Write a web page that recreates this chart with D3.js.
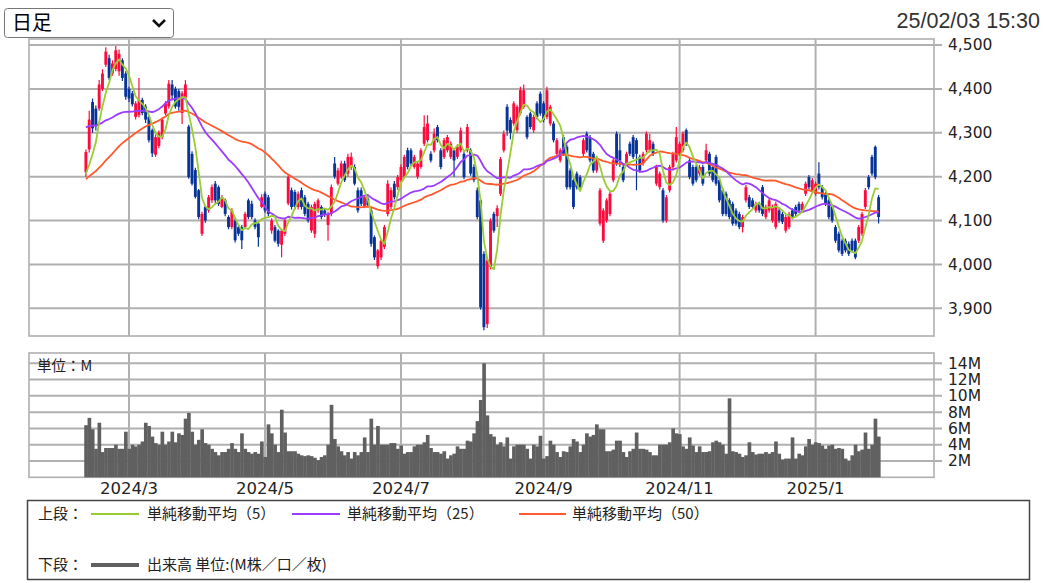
<!DOCTYPE html>
<html><head><meta charset="utf-8">
<script src="https://cdn.jsdelivr.net/npm/d3@7"></script>
<style>
html,body{margin:0;padding:0;background:#fff;}
svg{display:block;}
</style></head><body>
<svg id="chart" width="1044" height="583"></svg>
<script>
// ---------------- DATA ----------------
const headerDate = "25/02/03 15:30";
const periodLabel = "日足";
const startDate = "2024-02-09";
const endDate = "2025-02-03";
const holidays = ["2024-02-12","2024-02-23","2024-03-20","2024-04-29","2024-05-03","2024-05-06",
  "2024-07-15","2024-08-12","2024-09-16","2024-09-23","2024-10-14","2024-11-04","2024-12-31",
  "2025-01-01","2025-01-02","2025-01-03","2025-01-13"];
const monthLabels = ["2024/3","2024/5","2024/7","2024/9","2024/11","2025/1"];
const priceTicks = [3900,4000,4100,4200,4300,4400,4500];
const volumeTicks = [2,4,6,8,10,12,14];

// closes before the first visible day (used only for the moving averages)
const preCloses = [4010,4020,4000,4030,4045,4040,4055,4060,4050,4070,
  4080,4075,4090,4085,4095,4100,4090,4105,4110,4100,
  4115,4120,4110,4125,4130,
  4250,4290,4310,4330,4345,4360,4350,4370,4365,4380,
  4360,4350,4370,4355,4340,4360,4345,4330,4320,4290,
  4230,4190,4180,4180];

const opens = [4210,4262,4370,4355,4355,4400,4455,4470,4435,4445,
  4440,4465,4435,4400,4390,4336,4340,4375,4360,4336,
  4306,4250,4270,4290,4344,4360,4410,4400,4395,4345,
  4380,4314,4252,4215,4169,4070,4131,4123,4146,4184,
  4176,4131,4146,4108,4085,4100,4085,4085,4085,4146,
  4138,4100,4093,4131,4161,4153,4077,4085,4077,4045,
  4070,4139,4169,4165,4131,4169,4153,4138,4077,4070,
  4123,4131,4123,4090,4115,4230,4184,4200,4230,4207,
  4222,4222,4169,4169,4131,4150,4123,4062,3996,4016,
  4040,4115,4131,4184,4176,4192,4200,4260,4260,4222,
  4200,4222,4275,4283,4252,4260,4313,4260,4245,4260,
  4245,4260,4245,4260,4252,4260,4260,4222,4169,4146,
  4024,3864,3994,4115,4110,4161,4260,4359,4329,4321,
  4306,4344,4359,4336,4344,4306,4367,4389,4367,4336,
  4321,4321,4252,4237,4290,4268,4214,4192,4207,4199,
  4252,4298,4290,4252,4214,4093,4054,4100,4115,4192,
  4298,4260,4222,4230,4275,4290,4283,4245,4230,4260,
  4260,4275,4184,4176,4169,4100,4169,4222,4237,4252,
  4260,4306,4237,4222,4222,4207,4222,4237,4252,4222,
  4245,4192,4169,4161,4146,4138,4123,4115,4085,4146,
  4153,4146,4123,4138,4176,4108,4123,4100,4085,4123,
  4115,4077,4085,4123,4131,4138,4123,4161,4199,4169,
  4161,4207,4176,4161,4146,4131,4085,4070,4054,4054,
  4047,4054,4054,4054,4070,4131,4199,4245,4268,4153];

const highs = [4262,4350,4378,4362,4420,4445,4495,4478,4465,4498,
  4490,4470,4440,4405,4395,4372,4425,4380,4365,4340,
  4310,4296,4305,4335,4372,4420,4420,4405,4400,4395,
  4420,4318,4258,4220,4172,4120,4135,4158,4182,4190,
  4180,4158,4150,4112,4128,4105,4090,4090,4120,4150,
  4145,4105,4098,4160,4166,4158,4105,4090,4080,4080,
  4105,4205,4175,4170,4166,4175,4158,4143,4136,4143,
  4150,4135,4128,4120,4182,4245,4220,4236,4236,4252,
  4255,4228,4175,4175,4158,4155,4128,4066,4035,4058,
  4090,4192,4175,4190,4204,4228,4250,4266,4265,4250,
  4235,4265,4340,4340,4258,4310,4318,4265,4288,4295,
  4280,4265,4273,4312,4258,4320,4265,4228,4175,4150,
  4030,4015,4105,4120,4135,4245,4305,4365,4335,4372,
  4364,4405,4410,4340,4348,4341,4372,4394,4372,4405,
  4364,4326,4288,4265,4295,4273,4219,4197,4212,4204,
  4288,4303,4295,4257,4242,4174,4128,4151,4166,4242,
  4303,4298,4227,4257,4280,4295,4288,4250,4257,4303,
  4298,4280,4227,4212,4174,4158,4227,4257,4313,4280,
  4303,4310,4242,4227,4227,4227,4227,4275,4257,4227,
  4250,4197,4174,4166,4151,4143,4128,4120,4113,4181,
  4158,4151,4143,4143,4181,4136,4151,4136,4143,4128,
  4120,4113,4120,4128,4136,4143,4143,4189,4204,4197,
  4189,4233,4181,4166,4151,4136,4090,4075,4059,4059,
  4052,4059,4059,4090,4120,4174,4204,4250,4271,4158];

const lows = [4200,4255,4300,4305,4350,4395,4450,4420,4430,4440,
  4430,4418,4375,4370,4360,4330,4335,4340,4322,4278,
  4245,4245,4265,4285,4340,4355,4375,4355,4350,4320,
  4375,4195,4180,4150,4103,4065,4095,4118,4140,4140,
  4133,4128,4110,4080,4080,4050,4065,4035,4080,4103,
  4103,4080,4040,4128,4118,4110,4070,4050,4040,4016,
  4065,4135,4125,4125,4125,4125,4110,4095,4072,4060,
  4118,4103,4108,4054,4110,4195,4180,4195,4188,4200,
  4215,4180,4118,4133,4128,4130,4040,4010,3990,4010,
  4035,4110,4126,4148,4170,4188,4195,4217,4225,4218,
  4195,4218,4270,4278,4232,4255,4278,4217,4240,4255,
  4240,4200,4240,4255,4194,4255,4202,4187,4103,3897,
  3850,3855,3989,4072,4085,4156,4255,4293,4285,4316,
  4300,4340,4355,4285,4308,4300,4331,4339,4324,4331,
  4316,4278,4247,4232,4247,4171,4171,4126,4171,4171,
  4247,4255,4232,4209,4209,4088,4049,4095,4110,4187,
  4225,4222,4187,4225,4247,4240,4169,4209,4225,4255,
  4255,4247,4179,4171,4095,4095,4164,4217,4232,4247,
  4255,4270,4194,4179,4187,4202,4179,4232,4202,4187,
  4179,4141,4110,4110,4103,4088,4088,4080,4073,4141,
  4126,4126,4118,4118,4110,4103,4118,4095,4080,4095,
  4092,4072,4080,4103,4110,4118,4118,4156,4171,4164,
  4156,4171,4148,4133,4103,4095,4049,4027,4019,4027,
  4019,4027,4012,4049,4065,4126,4171,4202,4194,4093];

const closes = [4256,4330,4310,4315,4410,4435,4485,4425,4458,4488,
  4480,4425,4382,4378,4365,4367,4375,4345,4330,4283,
  4253,4290,4300,4330,4367,4412,4385,4360,4359,4390,
  4410,4199,4184,4154,4108,4115,4100,4153,4176,4146,
  4138,4153,4115,4085,4123,4055,4070,4055,4115,4108,
  4108,4085,4062,4153,4123,4115,4100,4054,4047,4077,
  4100,4199,4131,4131,4161,4131,4115,4100,4131,4138,
  4146,4108,4115,4115,4176,4200,4214,4230,4192,4245,
  4245,4184,4123,4138,4153,4135,4047,4016,4032,4054,
  4085,4184,4169,4153,4199,4222,4245,4222,4230,4245,
  4230,4260,4313,4321,4237,4298,4283,4222,4283,4290,
  4275,4237,4268,4305,4199,4313,4207,4192,4108,3902,
  3857,4009,4100,4077,4128,4240,4298,4305,4300,4367,
  4359,4397,4397,4290,4313,4336,4336,4344,4329,4397,
  4359,4283,4283,4260,4252,4176,4176,4131,4176,4176,
  4283,4260,4237,4214,4237,4169,4123,4146,4161,4237,
  4230,4237,4192,4252,4252,4245,4252,4214,4252,4298,
  4283,4252,4222,4207,4100,4153,4222,4252,4290,4275,
  4298,4275,4199,4184,4192,4222,4184,4260,4207,4192,
  4184,4146,4115,4115,4108,4093,4093,4085,4108,4176,
  4131,4131,4138,4123,4115,4131,4146,4131,4138,4100,
  4097,4108,4115,4108,4115,4123,4138,4184,4176,4192,
  4184,4176,4153,4138,4108,4100,4054,4032,4024,4032,
  4024,4032,4016,4085,4115,4169,4176,4207,4199,4108];

// volume, millions of shares
const volumes = [6.4,7.3,5.9,3.5,6.7,3.1,3.6,3.6,3.6,4.0,
  3.5,3.5,5.6,3.5,4.0,3.8,4.0,4.4,6.7,6.3,
  5.0,4.2,4.0,5.6,4.0,4.4,5.6,4.3,5.4,5.2,
  7.2,7.9,5.6,4.0,4.6,5.9,4.2,4.0,3.5,3.1,
  2.7,3.1,3.1,3.5,4.2,3.5,3.1,5.4,3.5,3.1,
  2.9,3.1,2.9,4.4,2.5,6.5,5.4,4.0,3.1,8.3,
  5.5,3.2,3.2,3.2,2.9,2.7,2.6,2.7,2.6,2.4,
  2.1,2.5,2.7,4.0,8.9,4.7,3.8,3.2,2.7,3.1,
  2.3,3.1,2.7,3.1,4.9,3.1,7.2,4.0,6.3,4.0,
  4.0,4.0,4.2,4.2,3.5,3.9,2.9,3.1,3.1,3.8,
  4.0,4.0,4.3,5.2,3.6,3.1,3.1,2.9,3.2,2.3,
  2.7,2.9,3.8,3.5,3.5,4.5,4.4,5.4,6.9,9.5,
  14.0,7.6,5.3,5.0,4.0,4.3,3.8,4.9,2.3,3.8,
  4.0,4.0,4.0,3.5,2.3,4.0,3.8,5.1,2.3,2.6,
  4.5,4.0,3.1,2.5,3.2,3.1,3.8,4.7,4.4,3.1,
  4.0,5.4,5.0,5.2,6.5,5.9,5.9,3.2,3.2,3.4,
  4.5,4.5,3.1,2.5,3.2,3.5,5.5,3.5,3.5,3.4,
  3.1,2.7,2.7,4.0,4.0,4.0,4.3,6.0,5.4,5.3,
  3.8,3.5,4.9,3.9,3.1,3.8,3.1,3.1,3.2,4.3,
  4.5,4.3,4.0,2.9,9.7,3.2,3.1,2.9,2.5,2.7,
  4.3,3.1,2.8,2.9,2.9,3.1,2.9,3.1,4.4,2.9,
  2.2,2.3,2.3,4.9,2.3,2.9,2.7,3.8,4.7,4.0,
  4.3,4.2,3.9,3.5,3.9,4.0,3.5,3.6,3.5,2.3,
  2.0,2.7,4.0,3.2,3.4,5.5,3.5,4.0,7.2,5.0];

const maPeriods = [5, 25, 50];
const maNames = ["単純移動平均（5）", "単純移動平均（25）", "単純移動平均（50）"];
const volumeLegend = "出来高 単位:(M株／口／枚)";

// ---------------- STYLE ----------------
const colUp = "#ff0a3c", colDown = "#08349a";
const maColors = ["#9acd32", "#9b3cff", "#ff5a2d"];
const gridCol = "#b0b0b0";
const volCol = "#606060";
const axisFont = "'DejaVu Sans', sans-serif";
const cjkFont = "'Noto Sans CJK JP', sans-serif";

// ---------------- CALENDAR ----------------
function tradingDays(s, e, hol) {
  const out = [];
  const hs = new Set(hol);
  let d = new Date(s + "T00:00:00Z");
  const end = new Date(e + "T00:00:00Z");
  while (d <= end) {
    const wd = d.getUTCDay();
    const iso = d.toISOString().slice(0, 10);
    if (wd !== 0 && wd !== 6 && !hs.has(iso)) out.push(iso);
    d = new Date(d.getTime() + 86400000);
  }
  return out;
}
const dates = tradingDays(startDate, endDate, holidays);
const data = dates.map((d, i) => ({
  date: d, o: opens[i], h: Math.max(highs[i], opens[i], closes[i]),
  l: Math.min(lows[i], opens[i], closes[i]), c: closes[i], v: volumes[i]
}));

// ---------------- LAYOUT ----------------
const svg = d3.select("#chart");
const L = 29, R = 934;
const pTop = 39, pBot = 336;
const vTop = 353, vBot = 477.3;

const x = d3.scaleBand().domain(dates).range([84.24, 880.26]).paddingInner(0).paddingOuter(0);
const bw = x.bandwidth();
const cx = d => x(d) + bw / 2;
const y = d3.scaleLinear().domain([3900, 4500]).range([308.3, 45]);
const yv = d3.scaleLinear().domain([0, 14]).range([vBot, 363.3]);

svg.append("rect").attr("width", 1044).attr("height", 583).attr("fill", "#fff");

// month starts
const monthStarts = monthLabels.map(lbl => {
  const [yy, mm] = lbl.split("/");
  const key = yy + "-" + String(mm).padStart(2, "0");
  return { label: lbl, date: dates.find(d => d.startsWith(key)) };
});

// ---- price panel frame & grid
const gP = svg.append("g");
gP.append("rect").attr("x", L).attr("y", pTop).attr("width", R - L).attr("height", pBot - pTop)
  .attr("fill", "#fff").attr("stroke", gridCol).attr("stroke-width", 1.6);
gP.selectAll("line.h").data(priceTicks).join("line")
  .attr("x1", L).attr("x2", R + 8).attr("y1", d => y(d)).attr("y2", d => y(d))
  .attr("stroke", gridCol).attr("stroke-width", 2);
gP.selectAll("line.v").data(monthStarts).join("line")
  .attr("x1", d => cx(d.date)).attr("x2", d => cx(d.date))
  .attr("y1", pTop).attr("y2", pBot).attr("stroke", gridCol).attr("stroke-width", 2);
gP.selectAll("text").data(priceTicks).join("text")
  .attr("x", 948).attr("y", d => y(d) + 5.4)
  .attr("font-family", axisFont).attr("font-size", 15.5).attr("fill", "#222")
  .text(d => d3.format(",")(d));

// ---- volume panel frame & grid
const gV = svg.append("g");
gV.append("rect").attr("x", L).attr("y", vTop).attr("width", R - L).attr("height", vBot - vTop)
  .attr("fill", "#fff").attr("stroke", gridCol).attr("stroke-width", 1.6);
gV.selectAll("line.h").data(volumeTicks).join("line")
  .attr("x1", L).attr("x2", R + 8).attr("y1", d => yv(d)).attr("y2", d => yv(d))
  .attr("stroke", gridCol).attr("stroke-width", 2);
gV.selectAll("line.v").data(monthStarts).join("line")
  .attr("x1", d => cx(d.date)).attr("x2", d => cx(d.date))
  .attr("y1", vTop).attr("y2", vBot).attr("stroke", gridCol).attr("stroke-width", 2);
gV.selectAll("text.t").data(volumeTicks).join("text")
  .attr("x", 948).attr("y", d => yv(d) + 5.4)
  .attr("font-family", axisFont).attr("font-size", 15.5).attr("fill", "#222")
  .text(d => d + "M");
gV.append("text").attr("x", 37).attr("y", 371)
  .attr("font-family", cjkFont).attr("font-size", 14.5).attr("fill", "#222").text("単位：M");

// volume bars
gV.selectAll("rect.bar").data(data).join("rect")
  .attr("x", d => x(d.date)).attr("width", bw + 0.35)
  .attr("y", d => yv(d.v)).attr("height", d => vBot - yv(d.v))
  .attr("fill", volCol);

// month labels
svg.selectAll("text.m").data(monthStarts).join("text")
  .attr("x", d => cx(d.date)).attr("y", 494).attr("text-anchor", "middle")
  .attr("font-family", axisFont).attr("font-size", 16.5).attr("fill", "#222")
  .text(d => d.label);

// ---- candles
const gC = svg.append("g");
gC.selectAll("line").data(data).join("line")
  .attr("x1", d => cx(d.date)).attr("x2", d => cx(d.date))
  .attr("y1", d => y(d.h)).attr("y2", d => y(d.l))
  .attr("stroke", d => d.c >= d.o ? colUp : colDown).attr("stroke-width", 1.2);
gC.selectAll("rect").data(data).join("rect")
  .attr("x", d => cx(d.date) - 1.45).attr("width", 2.9)
  .attr("y", d => y(Math.max(d.o, d.c)))
  .attr("height", d => Math.max(1.2, Math.abs(y(d.o) - y(d.c))))
  .attr("fill", d => d.c >= d.o ? colUp : colDown);

// ---- moving averages
const allCloses = preCloses.concat(closes);
const off = preCloses.length;
function sma(n) {
  return data.map((d, i) => ({ date: d.date, v: d3.mean(allCloses.slice(off + i - n + 1, off + i + 1)) }));
}
const line = d3.line().x(d => cx(d.date)).y(d => y(d.v)).curve(d3.curveLinear);
[2, 1, 0].forEach(k => {
  svg.append("path").datum(sma(maPeriods[k])).attr("d", line)
    .attr("fill", "none").attr("stroke", maColors[k]).attr("stroke-width", 1.8)
    .attr("stroke-linejoin", "round");
});

// ---- header
const sel = svg.append("g");
sel.append("rect").attr("x", 4.5).attr("y", 8.5).attr("width", 169).attr("height", 29).attr("rx", 3)
  .attr("fill", "#fff").attr("stroke", "#767676").attr("stroke-width", 1);
sel.append("text").attr("x", 12).attr("y", 30).attr("font-family", cjkFont).attr("font-size", 20)
  .attr("fill", "#000").text(periodLabel);
sel.append("path").attr("d", "M153,20 L159,26 L165,20").attr("fill", "none")
  .attr("stroke", "#111").attr("stroke-width", 2.6);
svg.append("text").attr("x", 1040).attr("y", 28).attr("text-anchor", "end")
  .attr("font-family", "'Liberation Sans', Arial, sans-serif").attr("font-size", 21.5)
  .attr("fill", "#333").text(headerDate);

// ---- legend
const lg = svg.append("g");
lg.append("rect").attr("x", 27.5).attr("y", 500.5).attr("width", 1002).attr("height", 79)
  .attr("fill", "#fff").attr("stroke", "#444").attr("stroke-width", 1.5);
const row1 = 519, row2 = 570;
lg.append("text").attr("x", 38).attr("y", row1).attr("font-family", cjkFont).attr("font-size", 15)
  .attr("fill", "#222").text("上段：");
const legX = [[91, 139, 147], [292, 340, 347], [519, 566, 572]];
maNames.forEach((nm, k) => {
  lg.append("line").attr("x1", legX[k][0]).attr("x2", legX[k][1]).attr("y1", row1 - 5).attr("y2", row1 - 5)
    .attr("stroke", maColors[k]).attr("stroke-width", 2);
  lg.append("text").attr("x", legX[k][2]).attr("y", row1).attr("font-family", cjkFont).attr("font-size", 15)
    .attr("fill", "#222").text(nm);
});
lg.append("text").attr("x", 38).attr("y", row2).attr("font-family", cjkFont).attr("font-size", 15)
  .attr("fill", "#222").text("下段：");
lg.append("line").attr("x1", 91).attr("x2", 139).attr("y1", row2 - 5).attr("y2", row2 - 5)
  .attr("stroke", volCol).attr("stroke-width", 4);
lg.append("text").attr("x", 147).attr("y", row2).attr("font-family", cjkFont).attr("font-size", 15)
  .attr("fill", "#222").text(volumeLegend);
</script>
</body></html>
